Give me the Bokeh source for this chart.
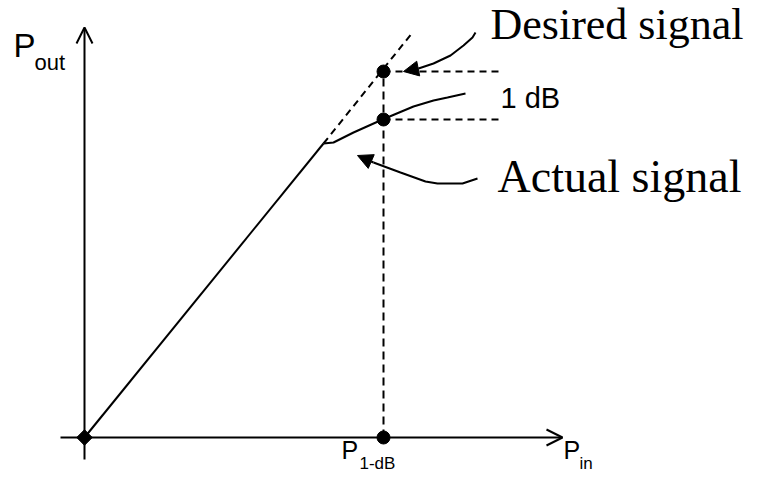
from bokeh.plotting import figure
from bokeh.models import Range1d, Arrow, OpenHead, NormalHead, Label
from bokeh.embed import file_html
from bokeh.resources import INLINE

# ---- data (diagram units: input power on x, output power on y) ----
lin_in = [0, 239]
lin_out = [0, 294]
ideal_in = [239, 328]
ideal_out = [294, 405]
act_in = [239, 249, 269, 298, 329, 349, 363, 381]
act_out = [294, 295, 305, 318, 331, 337, 340, 344]

p1db_in = 299
desired_out = 366
actual_out = 318
ref_end = 414

x_axis_span = [-24, 478]
y_axis_span = [-22, 410]

desired_arrow_x = [391, 388, 379, 366, 349, 334, 319]
desired_arrow_y = [405, 400, 392, 382, 374, 369, 366]
actual_arrow_x = [393, 378, 353, 341, 316, 289, 273]
actual_arrow_y = [259, 254, 254, 256, 265, 275, 282]

# ---- figure ----
p = figure(width=748, height=476, x_range=Range1d(-84, 664), y_range=Range1d(-39, 437),
           output_backend="svg", toolbar_location=None, min_border=0)
p.axis.visible = False
p.grid.visible = False
p.outline_line_color = None
p.background_fill_color = "white"

K = "black"

# axes with open arrowheads
p.add_layout(Arrow(end=OpenHead(size=16, line_width=2, line_color=K), line_width=2, line_color=K,
                   x_start=x_axis_span[0], y_start=0, x_end=x_axis_span[1], y_end=0))
p.add_layout(Arrow(end=OpenHead(size=16, line_width=2, line_color=K), line_width=2, line_color=K,
                   x_start=0, y_start=y_axis_span[0], x_end=0, y_end=y_axis_span[1]))

# linear region, ideal extension, actual compressed curve
p.line(lin_in, lin_out, line_color=K, line_width=2)
p.line(ideal_in, ideal_out, line_color=K, line_width=2, line_dash="7 5")
p.line(act_in, act_out, line_color=K, line_width=2)

# 1 dB reference dashed lines
p.line([p1db_in, p1db_in], [0, desired_out], line_color=K, line_width=2, line_dash="8 5")
p.line([p1db_in, ref_end], [desired_out, desired_out], line_color=K, line_width=2, line_dash="7 5")
p.line([p1db_in, ref_end], [actual_out, actual_out], line_color=K, line_width=2, line_dash="7 5")

# points
p.scatter([p1db_in, p1db_in, p1db_in], [desired_out, actual_out, 0], size=13, color=K)
p.scatter([0], [0], marker="square", angle=0.785, size=11, color=K)

# annotation arrows
for xs, ys in ((desired_arrow_x, desired_arrow_y), (actual_arrow_x, actual_arrow_y)):
    p.line(xs[:-1], ys[:-1], line_color=K, line_width=2)
    p.add_layout(Arrow(end=NormalHead(size=15, fill_color=K, line_color=K, line_width=1),
                       line_width=2, line_color=K,
                       x_start=xs[-2], y_start=ys[-2], x_end=xs[-1], y_end=ys[-1]))

SANS = "Liberation Sans"
SERIF = "Liberation Serif"

def lab(x, y, t, font, size):
    # y is the wanted baseline; shift compensates Bokeh's alphabetic placement
    p.add_layout(Label(x=x, y=y + 0.36 * size, text=t, text_font=font,
                       text_font_size=f"{size}px",
                       text_baseline="alphabetic", text_align="left", text_color=K))

lab(-71, 380, "P", SANS, 33)
lab(-50, 367, "out", SANS, 22)
lab(257, -21, "P", SANS, 25)
lab(275, -32, "1-dB", SANS, 17)
lab(479, -21, "P", SANS, 25)
lab(495, -32, "in", SANS, 17)
lab(416, 329, "1 dB", SANS, 29)
lab(406, 397, "Desired signal", SERIF, 44)
lab(413, 244, "Actual signal", SERIF, 46)

open("out.html", "w").write(file_html(p, INLINE))
